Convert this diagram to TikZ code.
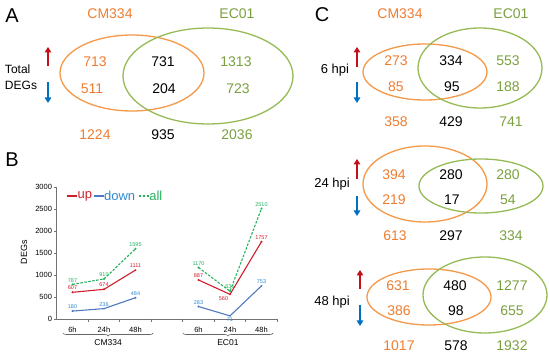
\documentclass[tikz,border=0pt]{standalone}
\usepackage{fontspec}
\setmainfont{Liberation Sans}
\usetikzlibrary{arrows.meta, positioning, shapes.geometric, decorations.pathreplacing}

\definecolor{cmorange}{RGB}{237,125,49}
\definecolor{cmring}{RGB}{245,152,72}
\definecolor{ecgreen}{RGB}{122,160,62}
\definecolor{ecring}{RGB}{150,186,86}
\definecolor{upred}{RGB}{196,14,24}
\definecolor{downblue}{RGB}{0,112,192}
\definecolor{plotred}{RGB}{206,32,44}
\definecolor{plotblue}{RGB}{80,120,192}
\definecolor{labelblue}{RGB}{48,138,208}
\definecolor{plotgreen}{RGB}{36,178,92}

\begin{document}
\begin{tikzpicture}[
    x=1pt, y=-1pt, >=Stealth,
    panel/.style={font=\fontsize{20}{20}\selectfont, inner sep=0pt},
    num/.style={font=\fontsize{14}{14}\selectfont, inner sep=0pt},
    hpi/.style={font=\fontsize{13}{13}\selectfont, inner sep=0pt},
    ringcm/.style={draw=cmring, ellipse, line width=1.3pt, inner sep=0pt},
    ringec/.style={draw=ecring, ellipse, line width=1.3pt, inner sep=0pt},
    uparr/.style={-{Triangle[length=5.5pt, width=6.5pt]}, line width=2.2pt, upred},
    downarr/.style={-{Triangle[length=5.5pt, width=6.5pt]}, line width=2.2pt, downblue},
    axis/.style={black!55, line width=0.6pt},
    ticklab/.style={font=\fontsize{7.5}{8}\selectfont, inner sep=1.5pt},
    dot/.style={circle, fill, inner sep=0pt, minimum size=2.2pt},
    lab/.style={font=\fontsize{5.5}{6}\selectfont, inner sep=0.8pt},
    upline/.style={plotred, line width=1.1pt},
    downline/.style={plotblue, line width=1.1pt},
    allline/.style={plotgreen, line width=1.1pt, dash pattern=on 2.5pt off 1.5pt},
    legtext/.style={font=\fontsize{13}{13}\selectfont, inner sep=0pt, anchor=west},
    brace/.style={decorate, decoration={brace, amplitude=3pt, mirror},
                  black!60, line width=0.6pt}
  ]
  \useasboundingbox (0,0) rectangle (550,358);

  % A: total DEGs
  \node[panel] (pA) at (12,16) {A};
  \node[num, text=cmorange] (cmA) at (110,14) {CM334};
  \node[num, text=ecgreen] (ecA) at (237,14) {EC01};
  \node[ringcm, minimum width=144pt, minimum height=76pt] (oA) at (132,73) {};
  \node[ringec, minimum width=170pt, minimum height=96pt] (gA) at (208,76) {};
  \node[font=\fontsize{12}{16}\selectfont, align=left, inner sep=0pt] (totA) at (21,77) {Total\\DEGs};
  \coordinate (aUpS) at (48,66);  \coordinate (aUpT) at (48,47);
  \coordinate (aDnS) at (48,82);  \coordinate (aDnT) at (48,103);
  \draw[uparr] (aUpS) -- (aUpT);
  \draw[downarr] (aDnS) -- (aDnT);
  \foreach \n/\x/\y/\c/\t in {aU1/95/62/cmorange/713, aU2/163/62/black/731, aU3/236/62/ecgreen/1313,
      aD1/92/89/cmorange/511, aD2/164/89/black/204, aD3/238/89/ecgreen/723,
      aT1/95/135/cmorange/1224, aT2/163/135/black/935, aT3/237/135/ecgreen/2036}
    \node[num, text=\c] (\n) at (\x,\y) {\t};

  % B: time course
  \node[panel] (pB) at (12,160) {B};
  \node[rotate=90, font=\fontsize{9}{9}\selectfont, inner sep=0pt] (ylab) at (24,252) {DEGs};
  \begin{scope}[shift={(41,319)}, x=31.5pt, y=0.044pt]
    \draw[axis] (0.5,3000) -- (0.5,0) -- (7.5,0);
    \foreach \v in {0,500,...,3000}
      \draw[axis] (0.5,\v) -- ++(-3pt,0pt) node[left, ticklab, black] (yt\v) {\v};
    \foreach \i in {1.5,2.5,...,7.5}
      \draw[axis] (\i,0) -- ++(0pt,-3pt);
    \foreach \i/\t in {1/6h,2/24h,3/48h,5/6h,6/24h,7/48h}
      \node[ticklab, below=6pt] (xt\i) at (\i,0) {\t};

    \foreach \n/\x/\v in {cmU1/1/607, cmU2/2/674, cmU3/3/1111, ecU1/5/887, ecU3/7/1757}
      \node[dot, plotred, label={[lab, text=plotred]above:\v}] (\n) at (\x,\v) {};
    \node[dot, plotred, label={[lab, text=plotred]below left:560}] (ecU2) at (6,560) {};
    \foreach \n/\x/\v in {cmD1/1/180, cmD2/2/236, cmD3/3/484, ecD1/5/283, ecD3/7/753}
      \node[dot, plotblue, label={[lab, text=labelblue]above:\v}] (\n) at (\x,\v) {};
    \node[dot, plotblue, label={[lab, text=labelblue]below:71}] (ecD2) at (6,71) {};
    \foreach \n/\x/\v in {cmA1/1/787, cmA2/2/910, cmA3/3/1595, ecA1/5/1170, ecA2/6/631, ecA3/7/2510}
      \node[dot, plotgreen, label={[lab, text=plotgreen]above:\v}] (\n) at (\x,\v) {};

    \draw[upline] (cmU1.center) -- (cmU2.center) -- (cmU3.center);
    \draw[upline] (ecU1.center) -- (ecU2.center) -- (ecU3.center);
    \draw[downline] (cmD1.center) -- (cmD2.center) -- (cmD3.center);
    \draw[downline] (ecD1.center) -- (ecD2.center) -- (ecD3.center);
    \draw[allline] (cmA1.center) -- (cmA2.center) -- (cmA3.center);
    \draw[allline] (ecA1.center) -- (ecA2.center) -- (ecA3.center);

    \draw[brace] ([yshift=-14pt]0.7,0) -- ([yshift=-14pt]3.56,0)
      node[midway, below=6pt, inner sep=0pt, font=\fontsize{8.5}{9}\selectfont, black] (cmB) {CM334};
    \draw[brace] ([yshift=-14pt]4.5,0) -- ([yshift=-14pt]7.37,0)
      node[midway, below=6pt, inner sep=0pt, font=\fontsize{8.5}{9}\selectfont, black] (ecB) {EC01};
  \end{scope}

  \coordinate (lgU) at (67,196);
  \draw[upline] (lgU) -- node[dot] (lgUd) {} ++(10,0)
    node[legtext, text=plotred] (lgUt) {up};
  \draw[downline] ([xshift=1pt]lgUt.east) -- node[dot] (lgDd) {} ++(10,0)
    node[legtext, text=labelblue] (lgDt) {down};
  \draw[allline] ([xshift=3pt]lgDt.east) -- node[dot] (lgAd) {} ++(10,0)
    node[legtext, text=plotgreen] (lgAt) {all};

  % C: per time point
  \node[panel] (pC) at (322,15) {C};
  \node[num, text=cmorange] (cmC) at (400,14) {CM334};
  \node[num, text=ecgreen] (ecC) at (511,14) {EC01};

  \node[ringcm, minimum width=124pt, minimum height=56pt] (o6) at (425,72) {};
  \node[ringec, minimum width=124pt, minimum height=80pt] (g6) at (480,68) {};
  \node[ringcm, minimum width=124pt, minimum height=76pt] (o24) at (425,184) {};
  \node[ringec, minimum width=124pt, minimum height=54pt] (g24) at (481,186) {};
  \node[ringcm, minimum width=124pt, minimum height=56pt] (o48) at (429,297) {};
  \node[ringec, minimum width=124pt, minimum height=76pt] (g48) at (485,295) {};

  \node[hpi] (h6) at (335,70) {6 hpi};
  \node[hpi] (h24) at (332,184) {24 hpi};
  \node[hpi] (h48) at (332,302) {48 hpi};

  \foreach \s/\x/\a/\b/\c/\d in {6/357/67/47/82/103, 24/357/179/159/196/216, 48/360/289/270/305/326} {
    \coordinate (u\s S) at (\x,\a);  \coordinate (u\s T) at (\x,\b);
    \coordinate (d\s S) at (\x,\c);  \coordinate (d\s T) at (\x,\d);
    \draw[uparr] (u\s S) -- (u\s T);
    \draw[downarr] (d\s S) -- (d\s T);
  }

  \foreach \n/\x/\y/\c/\t in {c6U1/396/61/cmorange/273, c6U2/451/61/black/334, c6U3/508/61/ecgreen/553,
      c6D1/396/87/cmorange/85, c6D2/452/87/black/95, c6D3/508/87/ecgreen/188,
      c6T1/396/122/cmorange/358, c6T2/451/122/black/429, c6T3/511/122/ecgreen/741,
      c24U1/394/175/cmorange/394, c24U2/451/175/black/280, c24U3/508/175/ecgreen/280,
      c24D1/394/200/cmorange/219, c24D2/452/200/black/17, c24D3/508/200/ecgreen/54,
      c24T1/395/236/cmorange/613, c24T2/451/236/black/297, c24T3/511/236/ecgreen/334,
      c48U1/398/286/cmorange/631, c48U2/455/286/black/480, c48U3/512/286/ecgreen/1277,
      c48D1/399/311/cmorange/386, c48D2/456/311/black/98, c48D3/512/311/ecgreen/655,
      c48T1/399/346/cmorange/1017, c48T2/456/346/black/578, c48T3/512/346/ecgreen/1932}
    \node[num, text=\c] (\n) at (\x,\y) {\t};
\end{tikzpicture}
\end{document}
